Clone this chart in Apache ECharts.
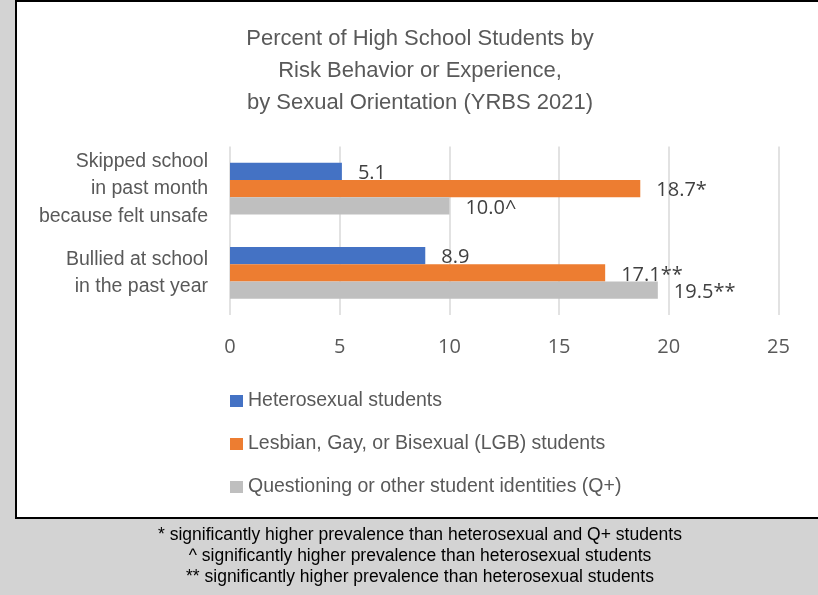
<!DOCTYPE html>
<html>
<head>
<meta charset="utf-8">
<script src="https://cdn.jsdelivr.net/npm/echarts@6/dist/echarts.min.js"></script>
<style>
  html, body { margin: 0; padding: 0; background: #d3d3d3; }
  #chart { width: 818px; height: 595px; }
</style>
</head>
<body>
<div id="chart"></div>
<script>
// categories, top to bottom
const categories = ['Skipped school\nin past month\nbecause felt unsafe', 'Bullied at school\nin the past year']
const seriesNames = ['Heterosexual students', 'Lesbian, Gay, or Bisexual (LGB) students', 'Questioning or other student identities (Q+)']
const heteroValues = [5.1, 8.9]
const lgbValues = [18.7, 17.1]
const qValues = [10.0, 19.5]
// significance marks appended to the labels
const heteroMarks = ['', '']
const lgbMarks = ['*', '**']
const qMarks = ['^', '**']
const colors = ['#4472c4', '#ed7d31', '#bfbfbf']
const titleLines = ['Percent of High School Students by', 'Risk Behavior or Experience,', 'by Sexual Orientation (YRBS 2021)']
const footnotes = [
  '* significantly higher prevalence than heterosexual and Q+ students',
  '^ significantly higher prevalence than heterosexual students',
  '** significantly higher prevalence than heterosexual students'
]

const chart = echarts.init(document.getElementById('chart'))

function makeSeries(i, values, marks) {
  return {
    name: seriesNames[i],
    type: 'bar',
    barWidth: 17.3,
    barGap: '0%',
    data: values,
    itemStyle: { color: colors[i] },
    label: {
      show: true,
      position: 'right',
      distance: 16,
      offset: [0, 2],
      color: '#404040',
      fontFamily: 'Open Sans',
      fontSize: 20,
      formatter(p) {
        return p.value.toFixed(1) + marks[p.dataIndex]
      }
    }
  }
}

const graphics = [{
  type: 'rect',
  z: -100,
  shape: { x: 16, y: 1, width: 820, height: 517 },
  style: { fill: '#fff', stroke: '#000', lineWidth: 2 }
}]
titleLines.forEach((t, i) => {
  graphics.push({
    type: 'text',
    x: 420,
    y: 39 + i * 32,
    style: {
      text: t,
      fill: '#595959',
      font: '22px "Liberation Sans", Arial, sans-serif',
      textAlign: 'center',
      textVerticalAlign: 'middle'
    }
  })
})
footnotes.forEach((t, i) => {
  graphics.push({
    type: 'text',
    x: 420,
    y: 535 + i * 21,
    style: {
      text: t,
      fill: '#000',
      font: '17.5px "Liberation Sans", Arial, sans-serif',
      textAlign: 'center',
      textVerticalAlign: 'middle'
    }
  })
})

chart.setOption({
  animation: false,
  backgroundColor: '#d3d3d3',
  graphic: graphics,
  grid: {
    left: 230,
    right: 39.5,
    top: 146.5,
    bottom: 280
  },
  legend: {
    orient: 'vertical',
    left: 225,
    top: 386,
    icon: 'rect',
    itemWidth: 13,
    itemHeight: 12,
    itemGap: 23,
    itemStyle: { borderWidth: 0 },
    textStyle: {
      color: '#595959',
      fontFamily: 'Liberation Sans',
      fontSize: 19.5,
      lineHeight: 20
    },
    data: seriesNames
  },
  xAxis: {
    type: 'value',
    min: 0,
    max: 25,
    interval: 5,
    axisLine: { show: false },
    axisTick: { show: false },
    splitLine: { lineStyle: { color: '#d9d9d9', width: 1.5 } },
    axisLabel: {
      margin: 22,
      color: '#595959',
      fontFamily: 'Open Sans',
      fontSize: 20
    }
  },
  yAxis: {
    type: 'category',
    inverse: true,
    data: categories,
    axisLine: { show: false },
    axisTick: { show: false },
    axisLabel: {
      margin: 22,
      color: '#595959',
      fontFamily: 'Liberation Sans',
      fontSize: 19.5,
      lineHeight: 27.5,
      align: 'right'
    }
  },
  series: [
    makeSeries(0, heteroValues, heteroMarks),
    makeSeries(1, lgbValues, lgbMarks),
    makeSeries(2, qValues, qMarks)
  ]
})
</script>
</body>
</html>
